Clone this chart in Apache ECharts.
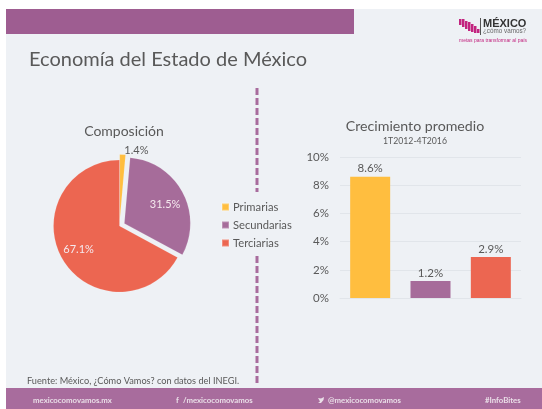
<!DOCTYPE html>
<html>
<head>
<meta charset="utf-8">
<title>Economía del Estado de México</title>
<script src="https://cdn.jsdelivr.net/npm/echarts@6/dist/echarts.min.js"></script>
<style>
    html, body { margin: 0; padding: 0; background: #fff; }
    #main { width: 542px; height: 409px; }
</style>
</head>
<body>
<div id="main"></div>
<script>
var sectors = ['Primarias', 'Secundarias', 'Terciarias'];
var composition = [1.4, 31.5, 67.1];
var growth = [8.6, 1.2, 2.9];
var growthTicks = [0, 2, 4, 6, 8, 10];
var colors = ['#FFBE3F', '#A66C9A', '#EC6651'];

var font = 'Lato';
var textColor = '#595959';
var purpleBar = '#9E5D91';
var purpleFoot = '#A86C9D';
var pink = '#C2247F';

// las etiquetas del pie no quedan donde las pone echarts por defecto
var pieLabelShift = [[-34, 11], [9, -2], [-10, 5]];

// barras del logo
var logoBars = [[459, 19, 2.5, 6], [462, 19, 2.5, 8], [465, 21, 2.5, 8], [468, 22, 2.5, 9], [471, 24, 2.5, 8], [474, 26, 2.5, 7], [477, 29, 2.5, 4]];

var logo = logoBars.map(function (b) {
    return { type: 'rect', shape: { x: b[0], y: b[1], width: b[2], height: b[3] }, style: { fill: pink } };
});

function footText(str, x) {
    return {
        type: 'text', x: x, y: 400,
        style: { text: str, font: 'bold 7.8px ' + font, fill: '#EADFE8', verticalAlign: 'middle' }
    };
}

var graphics = [
    { type: 'rect', z: -10, shape: { x: 6, y: 9, width: 536, height: 400 }, style: { fill: '#EEF1F5' } },
    { type: 'rect', z: -9, shape: { x: 6, y: 9, width: 348, height: 25 }, style: { fill: purpleBar } },
    { type: 'rect', z: -9, shape: { x: 6, y: 388, width: 536, height: 21 }, style: { fill: purpleFoot } },
    { type: 'line', shape: { x1: 257, y1: 88, x2: 257, y2: 192 }, style: { stroke: purpleFoot, lineWidth: 3, lineDash: [7, 3] } },
    { type: 'line', shape: { x1: 257, y1: 256, x2: 257, y2: 385 }, style: { stroke: purpleFoot, lineWidth: 3, lineDash: [7, 3] } },
    { type: 'line', shape: { x1: 480.5, y1: 18, x2: 480.5, y2: 35 }, style: { stroke: '#555', lineWidth: 1 } },
    { type: 'text', x: 483, y: 23.5, style: { text: 'MÉXICO', font: 'bold 11px "Liberation Sans"', fill: '#333', verticalAlign: 'middle' } },
    { type: 'text', x: 483, y: 31.5, style: { text: '¿cómo vamos?', font: '6.3px "Liberation Sans"', fill: '#666', verticalAlign: 'middle' } },
    { type: 'text', x: 459, y: 40.5, style: { text: 'metas para transformar al país', font: '5px "Liberation Sans"', fill: pink, verticalAlign: 'middle' } },
    footText('mexicocomovamos.mx', 33),
    footText('f', 176),
    footText('/mexicocomovamos', 183),
    { type: 'polygon', shape: { points: [[318, 398], [321, 398.5], [324, 397], [323.5, 400], [321, 403], [318, 403], [320, 401.5]] }, style: { fill: '#EADFE8' } },
    footText('@mexicocomovamos', 328),
    footText('#InfoBites', 485)
].concat(logo);

var chart = echarts.init(document.getElementById('main'), null, { renderer: 'canvas' });
chart.setOption({
    animation: false,
    backgroundColor: '#fff',
    textStyle: { fontFamily: font },
    graphic: graphics,
    title: [
        { text: 'Economía del Estado de México', left: 29, top: 50, padding: 0, textStyle: { fontFamily: font, fontWeight: 'normal', fontSize: 20, color: textColor } },
        { text: 'Composición', left: 124, top: 124, padding: 0, textAlign: 'center', textStyle: { fontFamily: font, fontWeight: 'normal', fontSize: 14, color: textColor } },
        { text: 'Crecimiento promedio', left: 415, top: 119, padding: 0, textAlign: 'center', textStyle: { fontFamily: font, fontWeight: 'normal', fontSize: 14.2, color: textColor } },
        { text: '1T2012-4T2016', left: 415, top: 137, padding: 0, textAlign: 'center', textStyle: { fontFamily: font, fontWeight: 'normal', fontSize: 8.7, color: textColor } },
        { text: 'Fuente: México, ¿Cómo Vamos? con datos del INEGI.', left: 27, top: 377, padding: 0, textStyle: { fontFamily: font, fontWeight: 'normal', fontSize: 9.2, color: textColor } }
    ],
    legend: {
        orient: 'vertical',
        left: 221,
        top: 200,
        padding: 0,
        itemWidth: 7,
        itemHeight: 7,
        itemGap: 4,
        icon: 'rect',
        data: sectors,
        textStyle: { fontFamily: font, fontSize: 11.2, color: textColor, padding: [0, 0, 0, -1], lineHeight: 14 }
    },
    grid: { left: 340, top: 157, width: 181, height: 141 },
    xAxis: {
        type: 'category',
        data: sectors,
        axisLine: { lineStyle: { color: '#E1E5EA' } },
        axisTick: { show: false },
        axisLabel: { show: false }
    },
    yAxis: {
        type: 'value',
        min: growthTicks[0],
        max: growthTicks[growthTicks.length - 1],
        interval: 2,
        axisLine: { show: false },
        axisTick: { show: false },
        splitLine: { lineStyle: { color: '#E1E5EA' } },
        axisLabel: { formatter: '{value}%', fontFamily: font, fontSize: 11.5, color: textColor, margin: 11 }
    },
    series: [
        {
            type: 'pie',
            center: [119.5, 226],
            radius: 66,
            startAngle: 90,
            clockwise: true,
            selectedMode: 'multiple',
            selectedOffset: 5.5,
            emphasis: { disabled: true },
            itemStyle: { borderColor: 'rgba(255,255,255,0.25)', borderWidth: 0.5 },
            labelLine: { show: false },
            data: sectors.map(function (name, i) {
                return {
                    name: name,
                    value: composition[i],
                    selected: i < 2,
                    itemStyle: { color: colors[i] },
                    label: {
                        show: true,
                        position: i === 0 ? 'outside' : 'inside',
                        formatter: composition[i].toFixed(1) + '%',
                        fontFamily: font,
                        fontSize: 11,
                        color: i === 0 ? textColor : '#F5E9EE'
                    }
                };
            }),
            labelLayout: function (params) {
                var s = pieLabelShift[params.dataIndex];
                return { dx: s[0], dy: s[1] };
            }
        },
        {
            type: 'bar',
            barWidth: 40,
            data: growth.map(function (v, i) {
                return { value: v, itemStyle: { color: colors[i] } };
            }),
            label: {
                show: true,
                position: 'top',
                distance: 2,
                formatter: function (p) { return p.value.toFixed(1) + '%'; },
                fontFamily: font,
                fontSize: 11.5,
                color: textColor
            }
        }
    ]
});
</script>
</body>
</html>
